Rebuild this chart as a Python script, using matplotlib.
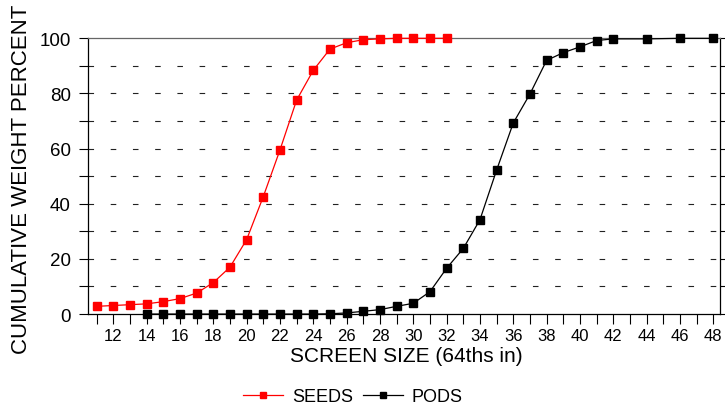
import matplotlib
matplotlib.use("Agg")
import matplotlib.pyplot as plt
import numpy as np

plt.rcParams['font.family'] = ['Liberation Sans', 'DejaVu Sans']

# Screen sizes (64ths of an inch) and cumulative weight percent
seeds_size = [11, 12, 13, 14, 15, 16, 17, 18, 19, 20, 21, 22,
              23, 24, 25, 26, 27, 28, 29, 30, 31, 32]
seeds_pct = [2.8, 3.1, 3.4, 3.7, 4.5, 5.6, 7.6, 11.4, 17.0, 27.0, 42.6, 59.5,
             77.6, 88.4, 96.1, 98.4, 99.5, 99.8, 100, 100, 100, 100]

pods_size = [14, 15, 16, 17, 18, 19, 20, 21, 22, 23, 24, 25, 26, 27, 28,
             29, 30, 31, 32, 33, 34, 35, 36, 37, 38, 39, 40, 41, 42, 44, 46, 48]
pods_pct = [0, 0, 0, 0, 0, 0, 0, 0, 0, 0, 0, 0.1, 0.4, 1.0, 1.6,
            2.8, 3.9, 8.1, 16.6, 23.8, 34.2, 52.2, 69.3, 79.8, 92.0, 94.8, 96.9, 99.2, 99.8, 99.8, 100, 100]

x_labels = list(range(12, 49, 2))
y_ticks = [0, 20, 40, 60, 80, 100]

fig = plt.figure(figsize=(7.25, 4.14), dpi=100)
ax = fig.add_axes([0.1218, 0.239, 0.8712, 0.666])

ax.plot(seeds_size, seeds_pct, color='#ff0000', lw=0.9, marker='s',
        markersize=5.5, markeredgecolor='#ff0000', label='SEEDS', clip_on=False, zorder=3)
ax.plot(pods_size, pods_pct, color='black', lw=0.9, marker='s',
        markersize=5.5, markeredgecolor='black', label='PODS', clip_on=False, zorder=3)

ax.set_xlim(10.5, 48.4)
ax.set_ylim(0, 100)

ax.set_xticks(range(11, 49), minor=True)
ax.set_xticks(x_labels)
ax.set_xticklabels([str(v) for v in x_labels], fontsize=12)
ax.tick_params(axis='x', which='both', direction='out', length=7, width=0.8, pad=3)

ax.set_yticks(y_ticks)
ax.set_yticks(range(10, 100, 20), minor=True)
ax.tick_params(axis='y', which='major', labelsize=13.5, direction='out', length=6.5, width=0.8, pad=6)
ax.tick_params(axis='y', which='minor', direction='out', length=6.5, width=0.8)
ax.tick_params(axis='y', which='both', right=True)

# dashed horizontal grid at every 10
for yv in range(10, 100, 10):
    ax.axhline(yv, color='#222222', lw=0.8, dashes=(5, 15), zorder=1)

for side in ['left', 'bottom', 'right']:
    ax.spines[side].set_color('black')
    ax.spines[side].set_linewidth(0.9)
ax.spines['top'].set_color('#666666')
ax.spines['top'].set_linewidth(0.9)

fig.text(406 / 725, 1 - 356 / 414, 'SCREEN SIZE (64ths in)', fontsize=15,
         ha='center', va='center')
fig.text(21.7 / 725, 1 - 179 / 414, 'CUMULATIVE WEIGHT PERCENT', fontsize=16,
         rotation=90, ha='center', va='center')

fig.legend(loc='center', bbox_to_anchor=(353 / 725, 1 - 398 / 414), ncol=2,
           frameon=False, fontsize=13, handlelength=2.2, columnspacing=0.55,
           handletextpad=0.5, markerscale=0.85)

fig.savefig('out.png', dpi=100)
